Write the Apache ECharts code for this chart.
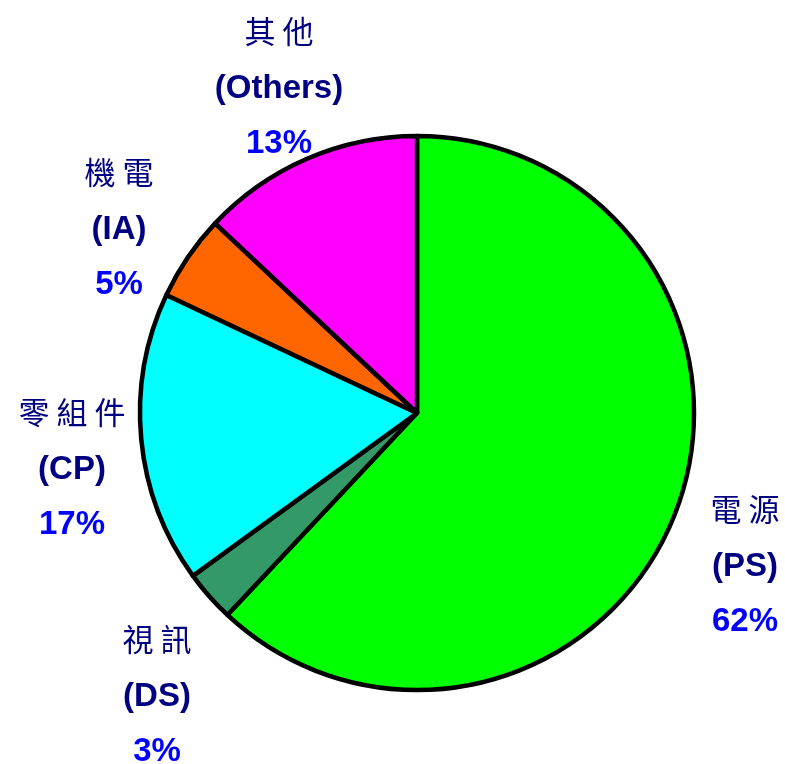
<!DOCTYPE html>
<html>
<head>
<meta charset="utf-8">
<script src="https://cdn.jsdelivr.net/npm/echarts@6/dist/echarts.min.js"></script>
<style>
    html, body { margin: 0; padding: 0; background: #fff; }
    #myChart { width: 785px; height: 764px; }
</style>
</head>
<body>
<div id="myChart"></div>
<script>
// 各事業群營收比重
var names = ['電源', '視訊', '零組件', '機電', '其他'];
var abbrs = ['PS', 'DS', 'CP', 'IA', 'Others'];
var values = [62, 3, 17, 5, 13];
var colors = ['#00ff00', '#339966', '#00ffff', '#ff6600', '#ff00ff'];

// 標籤位置（標籤中心，手動擺放）
var labelPos = [[745, 564], [157, 694], [72, 467], [119, 227], [279, 86]];

window.onload = function () {

    var myChart = echarts.init(document.getElementById('myChart'));

    var data = [];
    for (var i = 0; i < values.length; i++) {
        data.push({
            name: names[i],
            value: values[i],
            itemStyle: { color: colors[i] }
        });
    }

    var option = {
        animation: false,
        series: [{
            type: 'pie',
            center: [417, 413],
            radius: 277,
            startAngle: 90,
            clockwise: true,
            avoidLabelOverlap: false,
            data: data,
            itemStyle: {
                borderColor: '#000',
                borderWidth: 4.5
            },
            label: {
                show: true,
                position: 'outside',
                formatter: function (p) {
                    return '{n|' + p.name.split('').join(' ') + '}\n' +
                        '{a|(' + abbrs[p.dataIndex] + ')}\n' +
                        '{p|' + p.value + '%}';
                },
                rich: {
                    n: {
                        fontFamily: 'Noto Sans CJK TC',
                        fontSize: 31,
                        color: '#000080',
                        lineHeight: 60,
                        align: 'center'
                    },
                    a: {
                        fontFamily: 'Liberation Sans',
                        fontWeight: 'bold',
                        fontSize: 33,
                        color: '#000080',
                        lineHeight: 56,
                        align: 'center'
                    },
                    p: {
                        fontFamily: 'Liberation Sans',
                        fontWeight: 'bold',
                        fontSize: 33,
                        color: '#0000ff',
                        lineHeight: 54,
                        align: 'center'
                    }
                }
            },
            labelLine: { show: false },
            labelLayout: function (params) {
                var pos = labelPos[params.dataIndex];
                return {
                    x: pos[0],
                    y: pos[1],
                    align: 'center',
                    verticalAlign: 'middle'
                };
            },
            emphasis: { disabled: true }
        }]
    };

    myChart.setOption(option);
};
</script>
</body>
</html>
